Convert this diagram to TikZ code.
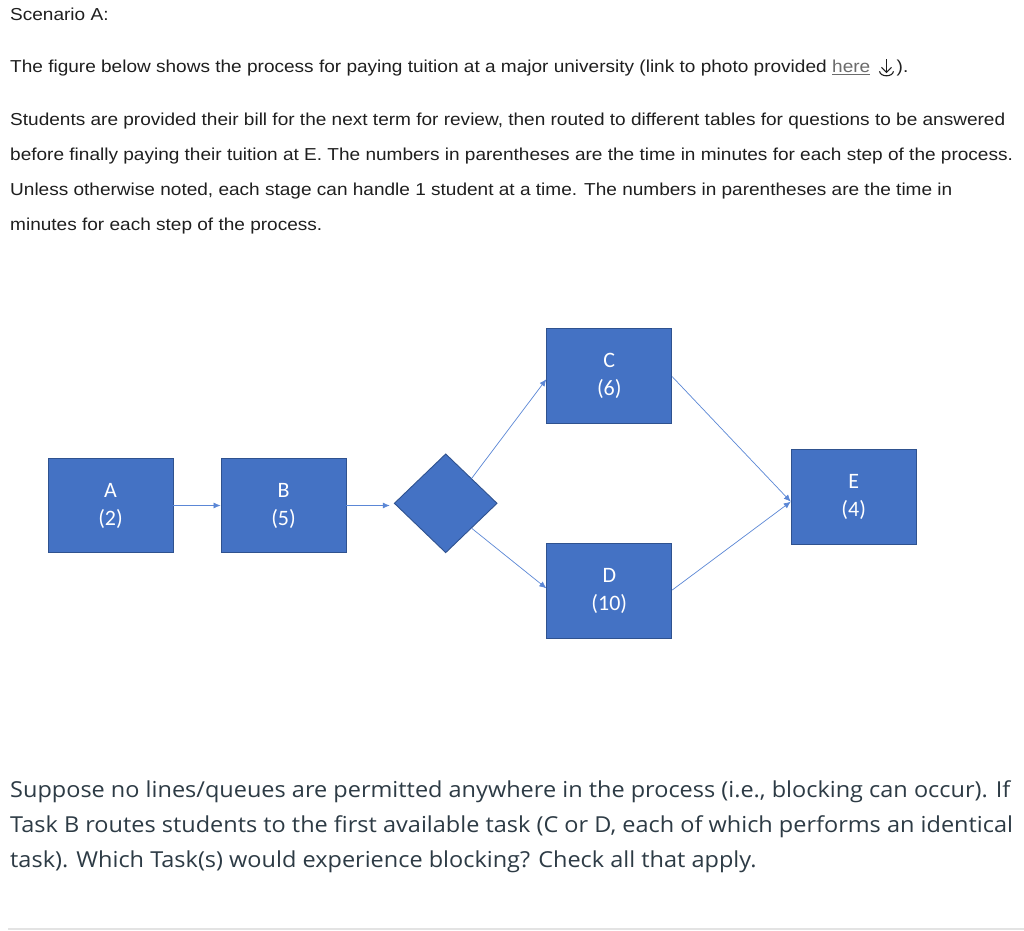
\documentclass[tikz,border=0pt]{standalone}
\usepackage{fontspec}
\setmainfont{Liberation Sans}
\newfontfamily\topfont[FakeStretch=1.1]{Liberation Sans}
\newfontfamily\calfont{Carlito}
\newfontfamily\osfont[FakeStretch=1.068]{Open Sans}
\usetikzlibrary{shapes.geometric,arrows.meta,calc}
\definecolor{boxblue}{HTML}{4472C4}
\definecolor{boxedge}{HTML}{2F528F}
\definecolor{linkblue}{HTML}{5B87D6}
\definecolor{toptext}{HTML}{1F1F1F}
\definecolor{bottext}{HTML}{2D3B45}
\definecolor{linkgray}{HTML}{6B6B6B}
\definecolor{rulegray}{HTML}{E3E3E3}
\tikzset{
  toptxt/.style={anchor=base west, inner sep=0pt, text=toptext, font=\topfont\fontsize{17.3}{20}\selectfont},
  bottxt/.style={anchor=base west, inner sep=0pt, text=bottext, font=\osfont\fontsize{22}{26}\selectfont},
  stepbox/.style={draw=boxedge, fill=boxblue, line width=0.9pt, minimum width=125pt, minimum height=94.5pt,
    inner sep=0pt, align=center, text=white, font=\calfont\fontsize{22}{28}\selectfont},
  decbox/.style={draw=boxedge, fill=boxblue, line width=0.9pt, shape=diamond, minimum width=103pt,
    minimum height=99pt, inner sep=0pt},
  flow/.style={draw=linkblue, line width=0.7pt, -{Latex[length=7pt,width=6pt]}}
}
\begin{document}
\begin{tikzpicture}[x=1pt,y=-1pt]
\useasboundingbox[fill=white] (0,0) rectangle (1024,930);
% top text
\node[toptxt] (t1) at (10,20.7) {Scenario A:};
\node[toptxt] (t2) at (10,72.3) {The figure below shows the process for paying tuition at a major university (link to photo provided};
\node[toptxt, text=linkgray, anchor=base west] (here) at ($(t2.base east)+(5,0)$) {\underline{here}};
\coordinate (ic) at ($(here.base east)+(16,0)$);
\draw[toptext, line width=1.1pt] ($(ic)+(0,-13)$) -- ($(ic)+(0,0)$);
\draw[toptext, line width=1.1pt] ($(ic)+(-5,-5)$) -- (ic) -- ($(ic)+(5,-5)$);
\draw[toptext, line width=1.1pt] ($(ic)+(-7,-1)$) .. controls ($(ic)+(-6,5)$) and ($(ic)+(6,5)$) .. ($(ic)+(7,-1)$);
\node[toptxt] (t2b) at ($(ic)+(10,0)$) {).};
\node[toptxt] (t3) at (10,125) {Students are provided their bill for the next term for review, then routed to different tables for questions to be answered};
\node[toptxt] (t4) at (10,160) {before finally paying their tuition at E. The numbers in parentheses are the time in minutes for each step of the process.};
\node[toptxt] (t5) at (10,195) {Unless otherwise noted, each stage can handle 1 student at a time. The numbers in parentheses are the time in};
\node[toptxt] (t6) at (10,230) {minutes for each step of the process.};
% diagram
\node[stepbox] (A) at (110.5,505.5) {A\\(2)};
\node[stepbox] (B) at (283.5,505.5) {B\\(5)};
\node[decbox] (dia) at (445.7,503.3) {};
\node[stepbox] (C) at (609.3,375.7) {C\\(6)};
\node[stepbox] (D) at (609.3,590.7) {D\\(10)};
\node[stepbox] (E) at (853.7,497) {E\\(4)};
\draw[flow] (A.east) -- (B.west);
\draw[flow] (B.east) -- ([xshift=-4pt]dia.west |- B.east);
\draw[flow] ($(dia.north)!0.5!(dia.east)$) -- ([yshift=-3.5pt]C.west);
\draw[flow] ($(dia.south)!0.5!(dia.east)$) -- ([yshift=2.4pt]D.west);
\draw[flow] ([yshift=-1pt]C.east) -- ([yshift=-4.7pt]E.west);
\draw[flow] ([yshift=0.7pt]D.east) -- ([yshift=-4.7pt]E.west);
% bottom text
\node[bottxt] (q1) at (10,797.3) {Suppose no lines/queues are permitted anywhere in the process (i.e., blocking can occur). If};
\node[bottxt] (q2) at (10,832.7) {Task B routes students to the first available task (C or D, each of which performs an identical};
\node[bottxt] (q3) at (10,867.7) {task). Which Task(s) would experience blocking? Check all that apply.};
\coordinate (r1) at (8,929);
\coordinate (r2) at (1024,929);
\draw[rulegray, line width=1.2pt] (r1) -- (r2);
\end{tikzpicture}
\end{document}
